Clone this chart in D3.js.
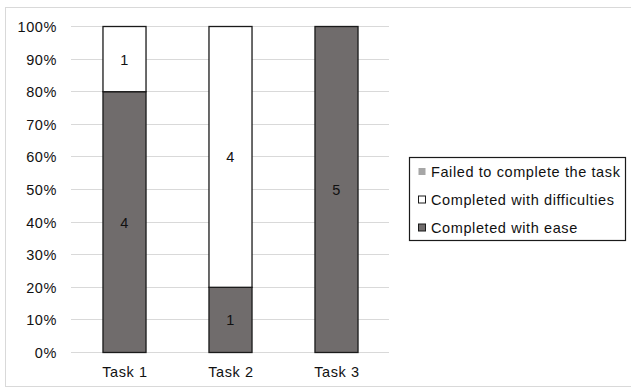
<!DOCTYPE html>
<html>
<head>
<meta charset="utf-8">
<script src="https://cdn.jsdelivr.net/npm/d3@7"></script>
<style>
  body { margin: 0; background: #fff; }
  text { font-family: "Liberation Sans", Arial, sans-serif; fill: #111; font-size: 14.5px; letter-spacing: 0.6px; }
</style>
</head>
<body>
<svg id="chart" width="631" height="389"></svg>
<script>
// data
const tasks = ["Task 1", "Task 2", "Task 3"];
const series = ["Completed with ease", "Completed with difficulties", "Failed to complete the task"];
const ease = [4, 1, 5];
const difficulties = [1, 4, 0];
const failed = [0, 0, 0];
const tickLabels = ["0%", "10%", "20%", "30%", "40%", "50%", "60%", "70%", "80%", "90%", "100%"];

const colors = ["#706c6c", "#ffffff", "#a6a6a6"];

const svg = d3.select('#chart');

// outer chart border
svg.append('rect')
  .attr('x', 5.5).attr('y', 7.5)
  .attr('width', 640).attr('height', 379)
  .attr('fill', '#fff')
  .attr('stroke', '#d9d9d9');

const rows = tasks.map((t, i) => {
  const total = ease[i] + difficulties[i] + failed[i];
  return { task: t, vals: [ease[i], difficulties[i], failed[i]], total: total };
});

const x = d3.scaleBand().domain(tasks).range([71, 389]).paddingInner(0.594).paddingOuter(0.297);
const y = d3.scaleLinear().domain([0, 1]).range([352, 26]);

// gridlines
svg.append('g')
  .selectAll('line')
  .data(d3.range(0, 11).map(d => d / 10))
  .enter()
  .append('line')
  .attr('x1', 71).attr('x2', 389)
  .attr('y1', d => Math.round(y(d)) + 0.5)
  .attr('y2', d => Math.round(y(d)) + 0.5)
  .attr('stroke', '#d9d9d9')
  .attr('stroke-width', 1);

// y tick labels
svg.append('g')
  .selectAll('text')
  .data(tickLabels)
  .enter()
  .append('text')
  .attr('x', 57)
  .attr('y', (d, i) => y(i / 10) + 6)
  .attr('text-anchor', 'end')
  .text(d => d);

// stacked bars
const stack = d3.stack().keys([0, 1, 2]).value((d, k) => d.vals[k] / d.total);
const layers = stack(rows);

layers.forEach((layer, k) => {
  const g = svg.append('g');
  layer.forEach(seg => {
    const v = seg.data.vals[k];
    if (v === 0) return;
    const bx = x(seg.data.task);
    g.append('rect')
      .attr('x', bx + 0.5)
      .attr('y', y(seg[1]) + 0.5)
      .attr('width', x.bandwidth())
      .attr('height', y(seg[0]) - y(seg[1]))
      .attr('fill', colors[k])
      .attr('stroke', '#1a1a1a')
      .attr('stroke-width', 1.3);
    g.append('text')
      .attr('x', bx + x.bandwidth() / 2 + 0.5)
      .attr('y', (y(seg[0]) + y(seg[1])) / 2 + 6)
      .attr('text-anchor', 'middle')
      .text(v);
  });
});

// x labels
svg.append('g')
  .selectAll('text')
  .data(tasks)
  .enter()
  .append('text')
  .attr('x', d => x(d) + x.bandwidth() / 2 + 1)
  .attr('y', 377)
  .attr('text-anchor', 'middle')
  .text(d => d);

// legend
const legend = svg.append('g');
legend.append('rect')
  .attr('x', 409.5).attr('y', 157.5)
  .attr('width', 216).attr('height', 83)
  .attr('fill', '#fff')
  .attr('stroke', '#1a1a1a')
  .attr('stroke-width', 1.2);

const legendOrder = [2, 1, 0];
legendOrder.forEach((k, i) => {
  const ly = 171.5 + i * 28;
  legend.append('rect')
    .attr('x', 418.5).attr('y', ly - 3.5)
    .attr('width', 7).attr('height', 7)
    .attr('fill', colors[k])
    .attr('stroke', k === 2 ? 'none' : '#1a1a1a')
    .attr('stroke-width', 1);
  legend.append('text')
    .attr('x', 431)
    .attr('y', ly + 5.5)
    .text(series[k]);
});
</script>
</body>
</html>
